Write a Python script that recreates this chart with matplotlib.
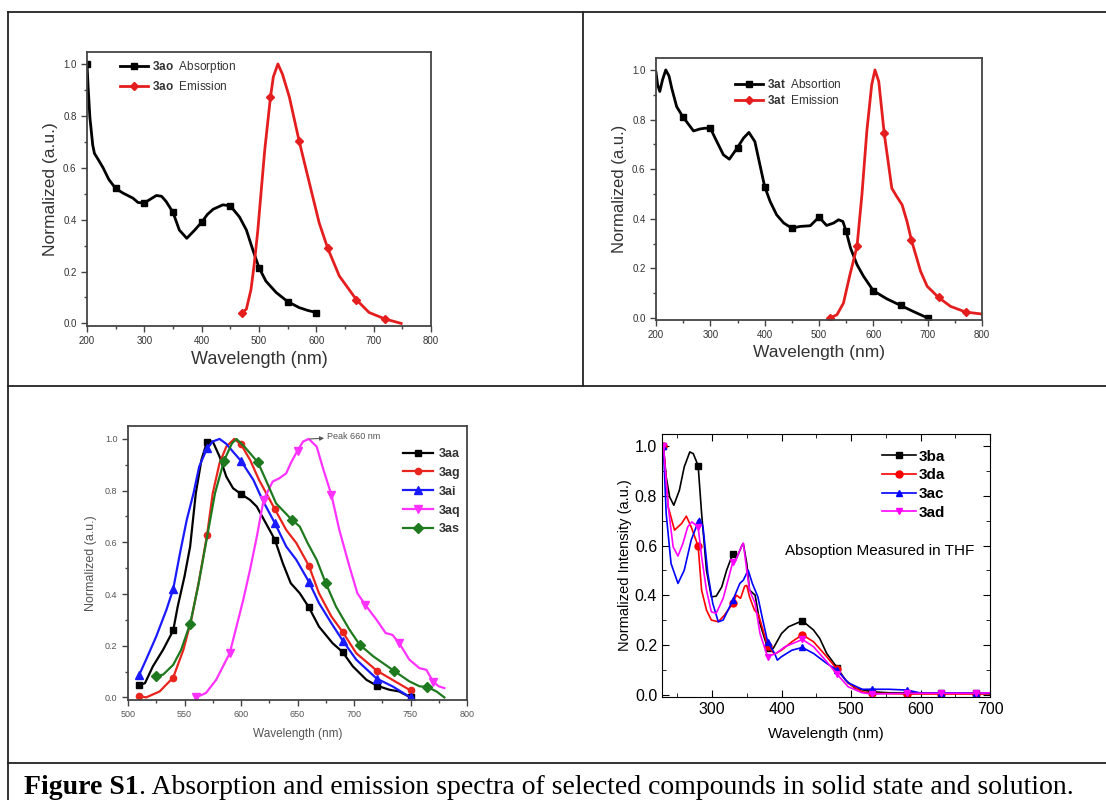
import matplotlib
matplotlib.use("Agg")
import matplotlib.pyplot as plt
from matplotlib.lines import Line2D
from matplotlib.text import Annotation
from matplotlib.ticker import MultipleLocator

plt.rcParams['font.family'] = ['Liberation Sans', 'DejaVu Sans']
plt.rcParams['mathtext.fontset'] = 'custom'
plt.rcParams['mathtext.rm'] = 'Liberation Sans'
plt.rcParams['mathtext.bf'] = 'Liberation Sans:bold'

# ---- panel 1: 3ao solid state ----
ao_abs_wl = [200, 202, 205, 208, 210, 213, 220, 228, 238, 250, 263, 280, 289, 300, 310, 321, 330, 338,
             350, 361, 374, 388, 400, 410, 420, 437, 450, 466, 478, 489, 500, 512, 530, 550, 570, 585, 600]
ao_abs = [1.0, 0.91, 0.795, 0.73, 0.687, 0.655, 0.63, 0.60, 0.555, 0.52, 0.502, 0.483, 0.466, 0.464, 0.478,
          0.493, 0.49, 0.47, 0.428, 0.36, 0.328, 0.36, 0.39, 0.42, 0.44, 0.457, 0.453, 0.41, 0.36, 0.285,
          0.215, 0.163, 0.119, 0.084, 0.061, 0.05, 0.042]
ao_abs_marks = [200, 250, 300, 350, 400, 450, 500, 550, 600]
ao_em_wl = [470, 478, 486, 492, 498, 504, 510, 520, 525, 533, 541, 553, 570, 588, 605, 620, 640, 670,
            692, 720, 748]
ao_em = [0.04, 0.055, 0.13, 0.234, 0.36, 0.515, 0.668, 0.872, 0.95, 1.0, 0.96, 0.872, 0.703, 0.54,
         0.387, 0.289, 0.183, 0.091, 0.042, 0.017, 0.0]
ao_em_marks = [470, 520, 570, 620, 670, 720]

# ---- panel 2: 3at solid state ----
at_abs_wl = [200, 203, 207, 212, 218, 224, 229, 238, 250, 256, 269, 281, 290, 300, 312, 324, 335, 350,
             361, 371, 382, 391, 400, 410, 422, 435, 450, 465, 484, 500, 514, 527, 536, 544, 550, 558,
             570, 582, 600, 625, 650, 673, 700]
at_abs = [0.99, 0.94, 0.913, 0.96, 1.0, 0.975, 0.926, 0.852, 0.809, 0.792, 0.754, 0.762, 0.765, 0.765,
          0.711, 0.658, 0.64, 0.687, 0.725, 0.748, 0.711, 0.62, 0.53, 0.47, 0.416, 0.383, 0.362, 0.369,
          0.372, 0.407, 0.373, 0.383, 0.396, 0.389, 0.349, 0.282, 0.215, 0.168, 0.11, 0.077, 0.051,
          0.027, 0.0]
at_abs_marks = [250, 300, 350, 400, 450, 500, 550, 600, 650, 700]
at_em_wl = [520, 533, 545, 557, 570, 579, 588, 597, 603, 610, 620, 634, 643, 653, 662, 670, 687, 699,
            720, 742, 770, 800]
at_em = [0.0, 0.013, 0.06, 0.175, 0.289, 0.497, 0.752, 0.94, 1.0, 0.953, 0.745, 0.523, 0.49, 0.456,
         0.389, 0.315, 0.188, 0.128, 0.083, 0.047, 0.024, 0.016]
at_em_marks = [520, 570, 620, 670, 720, 770]

# ---- panel 3: emission of 3aa..3as ----
aa_wl = [510, 515, 522, 531, 540, 544, 550, 555, 560, 565, 570, 575, 581, 587, 593, 600, 608, 614, 622,
         630, 637, 644, 652, 660, 669, 681, 690, 699, 711, 720, 731, 740, 750]
aa = [0.048, 0.055, 0.12, 0.184, 0.259, 0.352, 0.468, 0.584, 0.79, 0.919, 0.99, 0.99, 0.932, 0.854,
      0.809, 0.787, 0.764, 0.738, 0.674, 0.61, 0.519, 0.442, 0.403, 0.349, 0.274, 0.21, 0.175, 0.12,
      0.068, 0.046, 0.03, 0.023, 0.0]
ag_wl = [510, 516, 528, 540, 549, 556, 563, 570, 575, 581, 587, 594, 600, 608, 616, 630, 640, 649, 660,
         669, 680, 690, 702, 720, 734, 750]
ag = [0.006, 0.0, 0.023, 0.077, 0.184, 0.3, 0.455, 0.629, 0.79, 0.906, 0.97, 1.0, 0.979, 0.919, 0.841,
      0.728, 0.648, 0.597, 0.51, 0.403, 0.313, 0.253, 0.171, 0.104, 0.068, 0.027]
ai_wl = [510, 516, 525, 534, 540, 546, 552, 558, 563, 570, 575, 581, 587, 594, 600, 611, 619, 630, 640,
         649, 660, 669, 680, 690, 702, 720, 734, 750]
ai = [0.088, 0.146, 0.236, 0.339, 0.419, 0.558, 0.687, 0.79, 0.893, 0.964, 0.99, 1.0, 0.981, 0.945,
      0.915, 0.841, 0.764, 0.674, 0.584, 0.532, 0.448, 0.365, 0.287, 0.22, 0.146, 0.073, 0.043, 0.0]
aq_wl = [560, 569, 578, 590, 596, 602, 608, 614, 620, 628, 634, 640, 644, 650, 655, 660, 667, 673, 680,
         687, 696, 703, 710, 720, 728, 734, 740, 749, 758, 764, 770, 775, 780]
aq = [0.0, 0.017, 0.068, 0.171, 0.274, 0.378, 0.494, 0.622, 0.764, 0.835, 0.848, 0.867, 0.906, 0.955,
      0.99, 1.0, 0.97, 0.88, 0.784, 0.648, 0.506, 0.403, 0.358, 0.3, 0.249, 0.242, 0.21, 0.146, 0.113,
      0.107, 0.061, 0.043, 0.036]
as_wl = [525, 531, 540, 547, 555, 562, 569, 577, 585, 592, 596, 603, 615, 622, 631, 645, 652, 659, 667,
         675, 684, 696, 705, 717, 735, 749, 758, 765, 773, 780]
as_ = [0.084, 0.088, 0.126, 0.184, 0.285, 0.429, 0.597, 0.79, 0.916, 0.983, 1.0, 0.97, 0.909, 0.841,
       0.751, 0.687, 0.661, 0.597, 0.532, 0.442, 0.352, 0.262, 0.204, 0.159, 0.104, 0.062, 0.043, 0.04,
       0.023, 0.0]
em_marks_a = [510, 540, 570, 600, 630, 660, 690, 720, 750]
em_marks_q = [560, 590, 620, 650, 680, 710, 740, 770]
em_marks_s = [525, 555, 585, 615, 645, 675, 705, 735, 765]

# ---- panel 4: absorption in THF ----
ba_wl = [230, 234, 239, 245, 253, 260, 268, 273, 280, 285, 292, 299, 306, 314, 321, 330, 335, 343, 345,
         350, 354, 362, 369, 380, 388, 400, 410, 430, 446, 455, 465, 480, 492, 506, 530, 554, 580, 630,
         680, 700]
ba = [1.0, 0.876, 0.795, 0.762, 0.822, 0.916, 0.976, 0.969, 0.921, 0.729, 0.501, 0.394, 0.397, 0.434,
      0.501, 0.568, 0.548, 0.6, 0.608, 0.528, 0.421, 0.401, 0.287, 0.187, 0.187, 0.247, 0.274, 0.298,
      0.261, 0.227, 0.167, 0.11, 0.06, 0.027, 0.013, 0.009, 0.009, 0.007, 0.007, 0.007]
da_wl = [230, 237, 246, 256, 263, 270, 280, 285, 292, 299, 309, 318, 330, 335, 341, 347, 350, 354, 361,
         367, 380, 390, 400, 415, 430, 446, 465, 480, 496, 516, 530, 580, 630, 680, 700]
da = [1.0, 0.755, 0.662, 0.688, 0.718, 0.675, 0.598, 0.421, 0.341, 0.301, 0.294, 0.321, 0.368, 0.401,
      0.388, 0.437, 0.44, 0.394, 0.341, 0.321, 0.197, 0.164, 0.18, 0.214, 0.242, 0.214, 0.154, 0.103,
      0.047, 0.013, 0.007, 0.004, 0.004, 0.004, 0.004]
ac_wl = [230, 234, 241, 251, 260, 270, 280, 282, 287, 294, 301, 309, 316, 330, 340, 345, 352, 358, 366,
         373, 380, 390, 394, 400, 415, 430, 446, 465, 480, 496, 516, 530, 554, 580, 602, 630, 680, 700]
ac = [1.0, 0.729, 0.528, 0.448, 0.501, 0.622, 0.695, 0.709, 0.675, 0.488, 0.368, 0.294, 0.301, 0.381,
      0.448, 0.461, 0.501, 0.448, 0.394, 0.301, 0.214, 0.167, 0.14, 0.154, 0.18, 0.191, 0.167, 0.127,
      0.1, 0.049, 0.023, 0.023, 0.023, 0.02, 0.007, 0.009, 0.007, 0.007]
ad_wl = [230, 237, 244, 251, 258, 265, 271, 280, 285, 292, 299, 306, 316, 330, 335, 343, 345, 350, 354,
         362, 369, 380, 392, 405, 430, 446, 465, 480, 496, 516, 530, 580, 630, 680, 700]
ad = [1.0, 0.755, 0.595, 0.558, 0.608, 0.675, 0.695, 0.675, 0.555, 0.421, 0.334, 0.328, 0.388, 0.535,
      0.548, 0.6, 0.61, 0.501, 0.421, 0.368, 0.247, 0.154, 0.167, 0.194, 0.223, 0.194, 0.134, 0.083,
      0.033, 0.009, 0.004, 0.007, 0.007, 0.007, 0.009]
thf_marks = [230, 280, 330, 380, 430, 480, 530, 580, 630, 680]


def marks(wl, mk):
    return [i for i, w in enumerate(wl) if w in mk]


W, H = 1106, 800
fig = plt.figure(figsize=(W / 100, H / 100), dpi=100)


def box(l, t, r, b):
    return fig.add_axes([l / W, 1 - b / H, (r - l) / W, (b - t) / H])


def style_solid(ax, lbsize=7, col='#333333'):
    for s in ax.spines.values():
        s.set_color('#444444')
        s.set_linewidth(1.3)
    ax.tick_params(which='both', direction='out', labelsize=lbsize, labelcolor=col, color='#444444')
    ax.tick_params(which='major', length=4, width=1)
    ax.tick_params(which='minor', length=2.5, width=1)


# panel 1
ax1 = box(87, 52, 431, 326)
ax1.plot(ao_abs_wl, ao_abs, color='black', lw=2, marker='s', ms=4.5,
         markevery=marks(ao_abs_wl, ao_abs_marks), label=r'$\mathbf{3ao}$  Absorption')
ax1.plot(ao_em_wl, ao_em, color='#e41e1e', lw=2, marker='D', ms=4,
         markevery=marks(ao_em_wl, ao_em_marks), label=r'$\mathbf{3ao}$  Emission')
ax1.set_xlim(200, 800)
ax1.set_ylim(-0.01, 1.046)
ax1.xaxis.set_major_locator(MultipleLocator(100))
ax1.xaxis.set_minor_locator(MultipleLocator(50))
ax1.yaxis.set_major_locator(MultipleLocator(0.2))
ax1.yaxis.set_minor_locator(MultipleLocator(0.1))
ax1.set_xlabel('Wavelength (nm)', fontsize=13, color='#333333', labelpad=3)
ax1.set_ylabel('Normalized (a.u.)', fontsize=12.5, color='#333333', labelpad=4)
style_solid(ax1)
ax1.legend(loc='upper left', bbox_to_anchor=(0.096, 0.975), frameon=False, fontsize=8.5,
           borderpad=0, borderaxespad=0, handlelength=2.4, handletextpad=0.3, labelspacing=0.45,
           labelcolor='#333333')

# panel 2
ax2 = box(656, 58, 982, 320)
ax2.plot(at_abs_wl, at_abs, color='black', lw=2, marker='s', ms=4.5,
         markevery=marks(at_abs_wl, at_abs_marks), label=r'$\mathbf{3at}$  Absortion')
ax2.plot(at_em_wl, at_em, color='#e41e1e', lw=2, marker='D', ms=4,
         markevery=marks(at_em_wl, at_em_marks), label=r'$\mathbf{3at}$  Emission')
ax2.set_xlim(200, 800)
ax2.set_ylim(-0.008, 1.048)
ax2.xaxis.set_major_locator(MultipleLocator(100))
ax2.xaxis.set_minor_locator(MultipleLocator(50))
ax2.yaxis.set_major_locator(MultipleLocator(0.2))
ax2.yaxis.set_minor_locator(MultipleLocator(0.1))
ax2.set_xlabel('Wavelength (nm)', fontsize=12.5, color='#333333', labelpad=3)
ax2.set_ylabel('Normalized (a.u.)', fontsize=12, color='#333333', labelpad=4)
style_solid(ax2)
ax2.legend(loc='upper left', bbox_to_anchor=(0.242, 0.925), frameon=False, fontsize=8.5,
           borderpad=0, borderaxespad=0, handlelength=2.4, handletextpad=0.3, labelspacing=0.3,
           labelcolor='#333333')

# panel 3
ax3 = box(128, 426, 467, 700)
p3 = [(aa_wl, aa, em_marks_a, 'black', 's', 5, '3aa'),
      (ag_wl, ag, em_marks_a, '#e8241c', 'o', 4.5, '3ag'),
      (ai_wl, ai, em_marks_a, '#1a1aff', '^', 6, '3ai'),
      (aq_wl, aq, em_marks_q, '#ff33ff', 'v', 6, '3aq'),
      (as_wl, as_, em_marks_s, '#1f7a1f', 'D', 5.5, '3as')]
for wl, v, mk, c, m, s, lab in p3:
    ax3.plot(wl, v, color=c, lw=1.6, marker=m, ms=s, markevery=marks(wl, mk), label=lab)
ax3.set_xlim(500, 800)
ax3.set_ylim(-0.01, 1.05)
ax3.xaxis.set_major_locator(MultipleLocator(50))
ax3.xaxis.set_minor_locator(MultipleLocator(25))
ax3.yaxis.set_major_locator(MultipleLocator(0.2))
ax3.yaxis.set_minor_locator(MultipleLocator(0.1))
ax3.set_xlabel('Wavelength (nm)', fontsize=8.5, color='#555555', labelpad=6)
ax3.set_ylabel('Normalized (a.u.)', fontsize=9, color='#555555', labelpad=6)
style_solid(ax3, lbsize=6.5, col='#555555')
ax3.annotate('Peak 660 nm', xy=(661, 1.0), xytext=(676, 1.008), fontsize=6.5, color='#555555',
             va='center', arrowprops=dict(arrowstyle='<|-', color='#555555', lw=0.8,
                                          mutation_scale=6, shrinkA=0, shrinkB=0))
ax3.legend(loc='upper left', bbox_to_anchor=(0.811, 0.92), frameon=False,
           prop={'weight': 'bold', 'size': 9}, borderpad=0, borderaxespad=0, handlelength=2.4,
           handletextpad=0.5, labelspacing=0.55, labelcolor='#333333')

# panel 4
ax4 = box(662, 434, 990, 697)
p4 = [(ba_wl, ba, 'black', 's', '3ba'),
      (da_wl, da, '#ff0000', 'o', '3da'),
      (ac_wl, ac, '#0000ff', '^', '3ac'),
      (ad_wl, ad, '#ff00ff', 'v', '3ad')]
for wl, v, c, m, lab in p4:
    ax4.plot(wl, v, color=c, lw=1.2, marker=m, ms=5, markevery=marks(wl, thf_marks), label=lab)
ax4.set_xlim(228, 700)
ax4.set_ylim(-0.008, 1.048)
ax4.xaxis.set_major_locator(MultipleLocator(100))
ax4.xaxis.set_minor_locator(MultipleLocator(50))
ax4.yaxis.set_major_locator(MultipleLocator(0.2))
ax4.yaxis.set_minor_locator(MultipleLocator(0.1))
ax4.tick_params(which='both', direction='in', top=True, right=True, labelsize=11.5)
ax4.tick_params(which='major', length=5)
ax4.tick_params(which='minor', length=3)
ax4.set_xlabel('Wavelength (nm)', fontsize=11, labelpad=7)
ax4.set_ylabel('Normalized Intensity (a.u.)', fontsize=10.5, labelpad=2)
ax4.text(405, 0.58, 'Absoption Measured in THF', fontsize=11, va='center', ha='left')
ax4.legend(loc='upper left', bbox_to_anchor=(0.671, 0.94), frameon=False,
           prop={'weight': 'bold', 'size': 11}, borderpad=0, borderaxespad=0, handlelength=2.2,
           handletextpad=0.2, labelspacing=0.3)

# table rules
def rule(x0, y0, x1, y1):
    fig.add_artist(Line2D([x0 / W, x1 / W], [1 - y0 / H, 1 - y1 / H], color='#222222', lw=1.3))


rule(8, 12, W, 12)
rule(8, 386, W, 386)
rule(8, 763, W, 763)
rule(8, 12, 8, H)
rule(583, 12, 583, 386)

# caption
t1 = fig.text(24 / W, 1 - 794 / H, 'Figure S1', fontsize=20, fontweight='bold',
              family='Liberation Serif', va='baseline', ha='left')
fig.add_artist(Annotation('. Absorption and emission spectra of selected compounds in solid state and solution.',
                          xy=(1, 0), xycoords=t1, va='bottom', ha='left', fontsize=20,
                          family='Liberation Serif'))

fig.savefig('out.png', dpi=100)
